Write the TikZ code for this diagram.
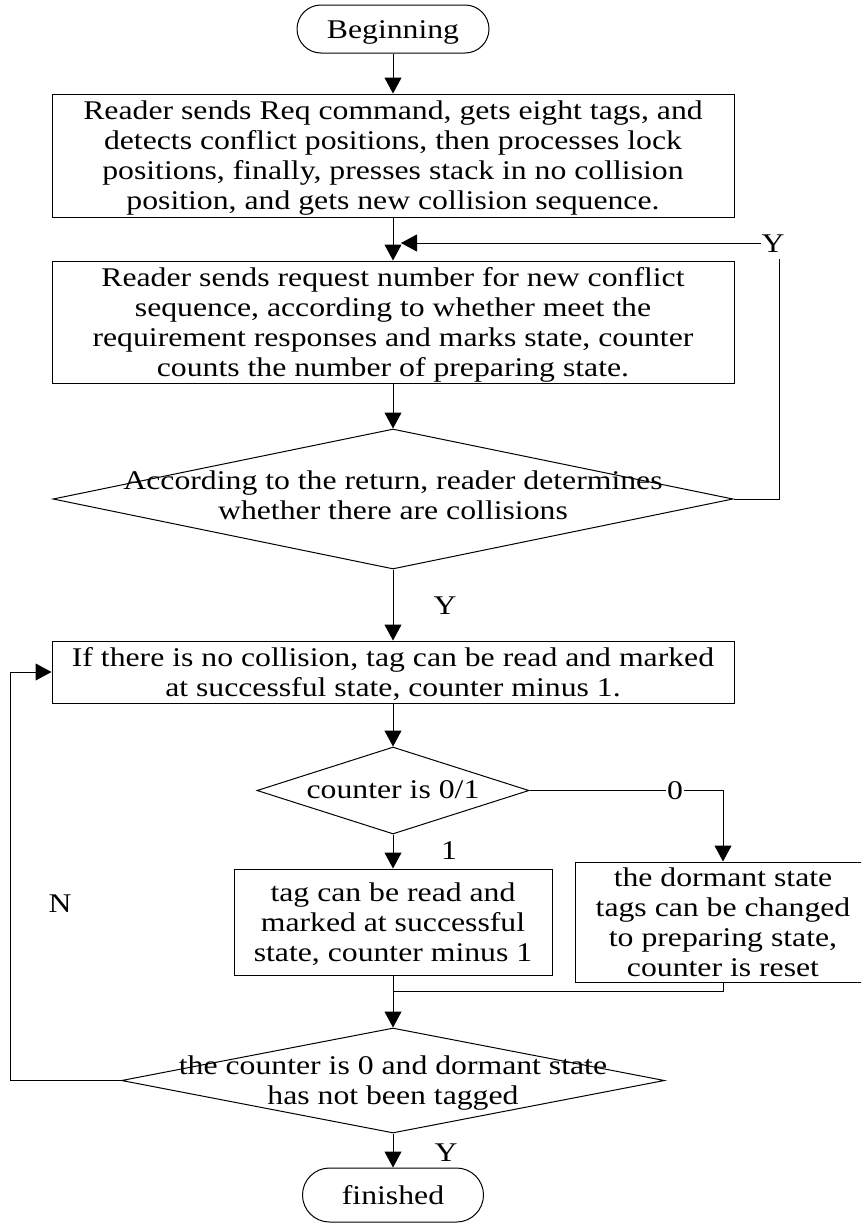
\documentclass[tikz,border=0pt]{standalone}
\usepackage{fontspec}
\setmainfont{Liberation Serif}
\usepackage{graphicx}
\usetikzlibrary{arrows.meta,shapes.geometric}
\newcommand{\sxt}[1]{\raisebox{-3pt}[\height][\depth]{\scalebox{1.175}[1]{\begin{tabular}{@{}c@{}}#1\end{tabular}}}}
\begin{document}
\begin{tikzpicture}[x=1pt,y=-1pt,line width=1pt,
  every node/.style={font=\fontsize{27}{30}\selectfont,inner sep=0pt},
  proc/.style={draw,rectangle},
  term/.style={draw,rectangle,rounded corners=24pt,minimum width=192pt,minimum height=48pt},
  dec/.style={draw,diamond},
  arr/.style={-{Triangle[length=16pt,width=17pt]}}]
\useasboundingbox (0,0) rectangle (861,1226);
\clip (0,0) rectangle (861,1226);
\node[term] (start) at (393,29) {\sxt{Beginning}};
\node[proc,minimum width=682pt,minimum height=123pt] (b1) at (393,155.5) {\sxt{Reader sends Req command, gets eight tags, and\\ detects conflict positions, then processes lock\\ positions, finally, presses stack in no collision\\ position, and gets new collision sequence.}};
\node[proc,minimum width=682pt,minimum height=122pt] (b2) at (393,322) {\sxt{Reader sends request number for new conflict\\ sequence, according to whether meet the\\ requirement responses and marks state, counter\\ counts the number of preparing state.}};
\node[dec,minimum width=680pt,minimum height=140pt] (d1) at (393,499) {};
\node (d1t) at (393,495) {\sxt{According to the return, reader determines\\ whether there are collisions}};
\node[proc,minimum width=682pt,minimum height=62pt] (b3) at (393,672) {\sxt{If there is no collision, tag can be read and marked\\ at successful state, counter minus 1.}};
\node[dec,minimum width=272pt,minimum height=87pt] (d2) at (393,790.5) {};
\node (d2t) at (393,789) {\sxt{counter is 0/1}};
\node[proc,minimum width=318pt,minimum height=106pt] (b4) at (393,922) {\sxt{tag can be read and\\ marked at successful\\ state, counter minus 1}};
\node[proc,minimum width=296pt,minimum height=106pt] (b5) at (723,922) {\sxt{the dormant state\\ tags can be changed\\ to preparing state,\\ counter is reset}};
\node[dec,minimum width=543pt,minimum height=105pt] (d3) at (393,1080.5) {};
\node (d3t) at (393,1080) {\sxt{the counter is 0 and dormant state\\ has not been tagged}};
\node[term,minimum width=181pt,minimum height=54pt,rounded corners=27pt] (end) at (393,1195) {\sxt{finished}};
\node (yA) at (773,243) {\sxt{Y}};
\node (yB) at (445,605) {\sxt{Y}};
\node (l1) at (449,850) {\sxt{1}};
\node (lN) at (60,903) {\sxt{N}};
\node (yC) at (446,1152) {\sxt{Y}};
\coordinate (m) at (393,991);
\coordinate (yin) at (401,243);
\coordinate (ytop) at (779,259);
\coordinate (lp) at (10,672);
\draw[arr] (start.south) -- (b1.north);
\draw[arr] (b1.south) -- (b2.north);
\draw[arr] (b2.south) -- (d1.north);
\draw (d1.east) -| (ytop);
\draw[arr] (yA.west |- yin) -- (yin);
\draw[arr] (d1.south) -- (b3.north);
\draw[arr] (b3.south) -- (d2.north);
\draw[arr] (d2.south) -- (b4.north);
\draw[arr] (d2.east) -| (b5.north);
\node[fill=white,inner sep=1pt] (l0) at (675,790) {\sxt{0}};
\draw (b5.south) |- (m);
\draw[arr] (b4.south) -- (d3.north);
\draw[arr] (d3.west) -| (lp) -- (b3.west);
\draw[arr] (d3.south) -- (end.north);
\end{tikzpicture}
\end{document}
